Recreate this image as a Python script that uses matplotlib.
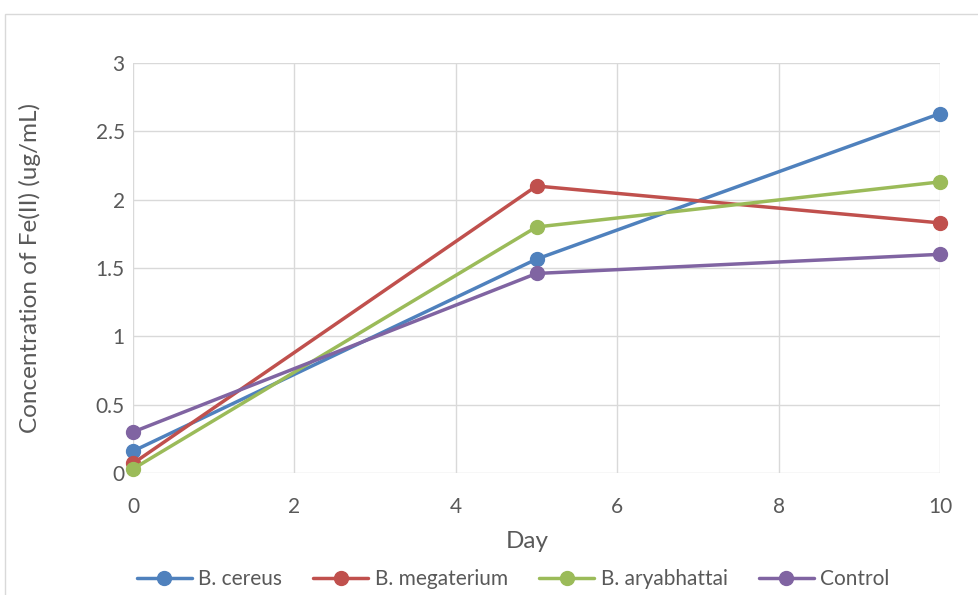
import matplotlib
matplotlib.use("Agg")
import matplotlib.pyplot as plt
from matplotlib.patches import Rectangle

plt.rcParams['font.family'] = ['Lato', 'DejaVu Sans']

days = [0, 5, 10]
series_names = ["B. cereus", "B. megaterium", "B. aryabhattai", "Control"]
b_cereus = [0.16, 1.565, 2.63]
b_megaterium = [0.07, 2.10, 1.83]
b_aryabhattai = [0.03, 1.80, 2.13]
control = [0.30, 1.46, 1.60]
colors = ["#4F81BD", "#C0504D", "#9BBB59", "#8064A2"]
text_color = "#595959"

W, H = 979, 595
fig = plt.figure(figsize=(W / 100, H / 100), dpi=100)

# outer chart-area frame
fig.patches.append(Rectangle((5 / W, -0.1), 1.2, 1 - 14 / H + 0.1,
                             transform=fig.transFigure, fill=False,
                             edgecolor="#D9D9D9", linewidth=1.0))

ax = fig.add_axes([133 / W, 1 - 473 / H, (940 - 133) / W, (473 - 63) / H])

for vals, name, c in zip([b_cereus, b_megaterium, b_aryabhattai, control],
                         series_names, colors):
    ax.plot(days, vals, color=c, linewidth=2.5, marker="o", markersize=10,
            label=name, solid_capstyle="round", zorder=3, clip_on=False)

ax.set_xlim(0, 10)
ax.set_ylim(0, 3)
ax.set_xticks(range(0, 11, 2))
ax.set_yticks([0, 0.5, 1, 1.5, 2, 2.5, 3])
ax.set_yticklabels(["0", "0.5", "1", "1.5", "2", "2.5", "3"])
ax.grid(True, color="#D9D9D9", linewidth=1.0)
ax.set_axisbelow(True)
for s in ax.spines.values():
    s.set_visible(False)
ax.tick_params(length=0, labelsize=15, colors=text_color)
ax.tick_params(axis="x", pad=17)
ax.tick_params(axis="y", pad=6)

fig.text(527 / W, 1 - 541 / H, "Day", fontsize=17.5, color=text_color,
         ha="center", va="center")
fig.text(30 / W, 1 - 268 / H, "Concentration of Fe(II) (ug/mL)",
         fontsize=17.5, color=text_color, rotation=90,
         ha="center", va="center")

leg = fig.legend(loc="center", bbox_to_anchor=(513 / W, 1 - 579 / H), ncol=4,
                 frameon=False, fontsize=15, handlelength=2.65,
                 columnspacing=1.5, handletextpad=0.3)
for t in leg.get_texts():
    t.set_color(text_color)

fig.savefig("out.png", dpi=100)
